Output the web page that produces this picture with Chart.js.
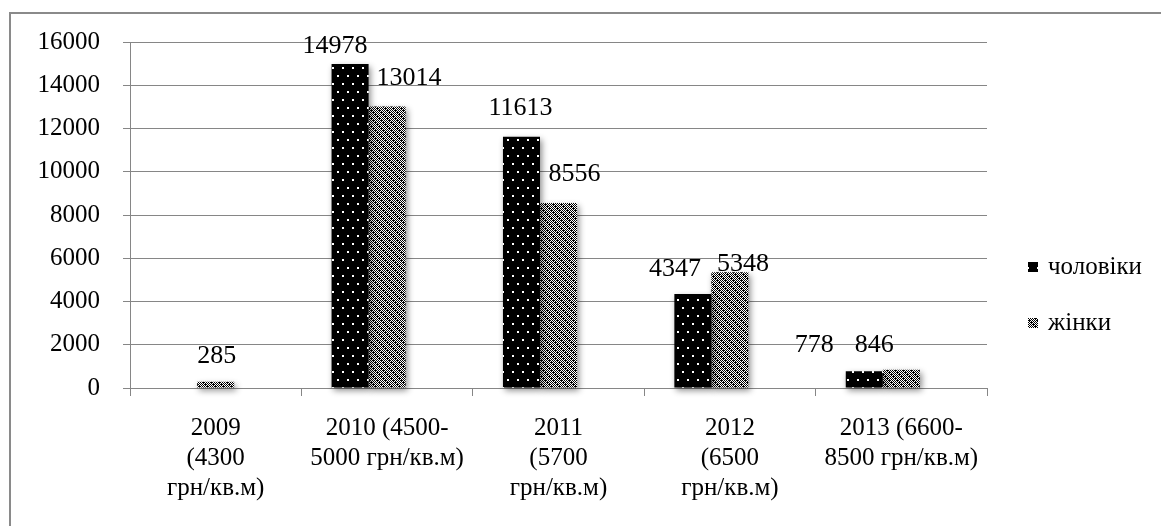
<!DOCTYPE html>
<html>
<head>
<meta charset="utf-8">
<script src="https://cdn.jsdelivr.net/npm/chart.js@4.4.0/dist/chart.umd.min.js"></script>
<style>
  html, body { margin: 0; padding: 0; background: #fff; overflow: hidden; }
  canvas { display: block; }
</style>
</head>
<body>
<canvas id="c" width="1161" height="526"></canvas>
<script>
// Category labels (multi-line), series names and values
const categories = [
  ["2009", "(4300", "грн/кв.м)"],
  ["2010 (4500-", "5000 грн/кв.м)"],
  ["2011", "(5700", "грн/кв.м)"],
  ["2012", "(6500", "грн/кв.м)"],
  ["2013 (6600-", "8500 грн/кв.м)"]
];
const seriesNames = ["чоловіки", "жінки"];
const menValues = [null, 14978, 11613, 4347, 778];
const womenValues = [285, 13014, 8556, 5348, 846];
const emptySlot = [null, null, null, null, null];
const yTicks = [0, 2000, 4000, 6000, 8000, 10000, 12000, 14000, 16000];

const FONT = "'Liberation Serif', 'Times New Roman', serif";
const GRID = '#868686';

// Black fill with sparse white dots
function dotPattern() {
  const c = document.createElement('canvas');
  c.width = 10; c.height = 16;
  const g = c.getContext('2d');
  g.fillStyle = '#000'; g.fillRect(0, 0, 10, 16);
  g.fillStyle = '#fff';
  g.fillRect(2, 3, 2, 2);
  g.fillRect(7, 11, 2, 2);
  return g.createPattern(c, 'repeat');
}
// Black/white checkered dither (fine checks alternating with denser blocks)
function ditherPattern() {
  const rows = [
    "10101110",
    "01010101",
    "10101011",
    "01010101",
    "11101010",
    "01010101",
    "10111010",
    "01010101"
  ];
  const c = document.createElement('canvas');
  c.width = 8; c.height = 8;
  const g = c.getContext('2d');
  g.fillStyle = '#fff'; g.fillRect(0, 0, 8, 8);
  g.fillStyle = '#000';
  rows.forEach((r, y) => { for (let x = 0; x < 8; x++) if (r[x] === '1') g.fillRect(x, y, 1, 1); });
  return g.createPattern(c, 'repeat');
}
const menFill = dotPattern();
const womenFill = ditherPattern();

// Outer frame of the figure
const framePlugin = {
  id: 'frame',
  beforeDraw(chart) {
    const ctx = chart.ctx;
    ctx.save();
    ctx.strokeStyle = '#8a8a8a';
    ctx.lineWidth = 2;
    ctx.strokeRect(10, 13, 3000, 3000);
    ctx.restore();
  }
};

// Soft drop shadow under the bars
const shadowPlugin = {
  id: 'barShadow',
  beforeDatasetsDraw(chart) {
    const ctx = chart.ctx;
    ctx.save();
    ctx.shadowColor = 'rgba(0,0,0,0.45)';
    ctx.shadowBlur = 6;
    ctx.shadowOffsetX = 2;
    ctx.shadowOffsetY = 3;
  },
  afterDatasetsDraw(chart) { chart.ctx.restore(); }
};

// Value labels placed next to the bar tops
const valueLabelPlugin = {
  id: 'valueLabels',
  afterDraw(chart, args, opts) {
    const ctx = chart.ctx;
    ctx.save();
    ctx.font = opts.font;
    ctx.fillStyle = '#000';
    ctx.textAlign = 'center';
    ctx.textBaseline = 'middle';
    opts.offsets.forEach((offs, i) => {
      const ds = chart.data.datasets[i];
      const meta = chart.getDatasetMeta(i);
      meta.data.forEach((bar, j) => {
        const v = ds.data[j];
        if (v === null || v === undefined) return;
        const o = offs[j] || [0, -28];
        ctx.fillText(String(v), bar.x + o[0], bar.y + o[1]);
      });
    });
    ctx.restore();
  }
};

// Legend at the right side
const sideLegendPlugin = {
  id: 'sideLegend',
  afterDraw(chart, args, opts) {
    const ctx = chart.ctx;
    ctx.save();
    ctx.font = opts.font;
    ctx.textBaseline = 'middle';
    ctx.textAlign = 'left';
    opts.items.forEach((idx, k) => {
      const ds = chart.data.datasets[idx];
      const y = opts.y + k * opts.gap;
      ctx.fillStyle = ds.backgroundColor;
      ctx.fillRect(opts.x, y - 5, 10, 10);
      ctx.fillStyle = '#000';
      ctx.fillText(ds.label, opts.x + 20, y);
    });
    ctx.restore();
  }
};

new Chart(document.getElementById('c'), {
  type: 'bar',
  data: {
    labels: categories,
    datasets: [
      { label: seriesNames[0], data: menValues, backgroundColor: menFill, clip: false },
      { label: seriesNames[1], data: womenValues, backgroundColor: womenFill, clip: false },
      { label: '', data: emptySlot, backgroundColor: 'rgba(0,0,0,0)', clip: false }
    ]
  },
  options: {
    responsive: false,
    animation: false,
    events: [],
    datasets: { bar: { categoryPercentage: 0.648, barPercentage: 1 } },
    layout: { padding: { left: 0, top: 42, right: 174, bottom: 0 } },
    scales: {
      x: {
        afterFit(scale) { scale.height = 138; },
        grid: { display: true, offset: true, drawOnChartArea: false, color: GRID, tickLength: 8, lineWidth: 1 },
        border: { display: true, color: GRID, width: 1 },
        ticks: { color: '#000', padding: 17, maxRotation: 0, autoSkip: false, font: { family: FONT, size: 25, lineHeight: 1.2 } }
      },
      y: {
        min: 0,
        max: 16000,
        afterFit(scale) { scale.width = 130; },
        afterBuildTicks(scale) { scale.ticks = yTicks.map(v => ({ value: v })); },
        grid: { color: GRID, tickLength: 7, lineWidth: 1 },
        border: { display: true, color: GRID, width: 1 },
        ticks: { color: '#000', padding: 23, font: { family: FONT, size: 25 }, callback: v => String(v) }
      }
    },
    plugins: {
      legend: { display: false },
      tooltip: { enabled: false },
      valueLabels: {
        font: '26px ' + FONT,
        offsets: [
          [null, [-15, -18], [-1, -29], [-18, -25], [-50, -26]],
          [[1, -26], [22, -28], [16, -29], [13, -8], [-27, -25]]
        ]
      },
      sideLegend: { font: '25px ' + FONT, x: 1028, y: 267, gap: 56, items: [0, 1] }
    }
  },
  plugins: [framePlugin, shadowPlugin, valueLabelPlugin, sideLegendPlugin]
});
</script>
</body>
</html>
